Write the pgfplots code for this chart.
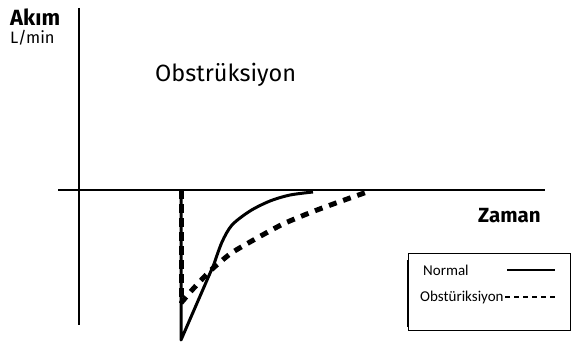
\documentclass[border=0pt]{standalone}
\usepackage{pgfplots}
\pgfplotsset{compat=1.18}
\usepackage{fontspec}
\setmainfont{Fira Sans}
\newfontfamily\legfont{Carlito}
\begin{document}
\begin{tikzpicture}
\begin{axis}[
  scale only axis, width=577pt, height=355pt,
  xmin=0, xmax=577, ymin=0, ymax=355, y dir=reverse,
  hide axis, clip=false]
\path (axis cs:0,0) rectangle (axis cs:577,355);
% axes
\addplot[black, line width=2pt] coordinates {(79,8) (79,325)};
\addplot[black, line width=2pt] coordinates {(58,190) (545,190)};
% normal
\addplot[black, line width=3pt, line join=round] coordinates {(181,190) (181,340) (214,264)};
\addplot[black, line width=3pt, smooth, tension=0.5] coordinates {(214,264) (222,242) (232,225) (250,211) (270,201) (290,195) (313,192)};
% obstruction
\addplot[black, line width=5pt, dash pattern=on 9pt off 5pt] coordinates {(181,190) (181,303)};
\addplot[black, line width=5pt, dash pattern=on 8pt off 7pt, smooth, tension=0.4] coordinates {(181,303) (193,289) (210,271) (230,254) (250,242) (283,224) (317,210) (350,198) (370,191)};
% legend box
\addplot[black, line width=0.8pt] coordinates {(408,253) (570,253) (570,330) (408,330) (408,253)};
\addplot[black, line width=2.5pt] coordinates {(408,260) (408,327)};
\addplot[black, line width=1.5pt] coordinates {(507,270) (555,270)};
\addplot[black, line width=1.5pt, dash pattern=on 5pt off 4pt] coordinates {(505,297) (557,297)};
% texts
\node[anchor=west, inner xsep=0pt, font=\fontsize{22}{24}\selectfont\bfseries] at (axis cs:10,17) {Akım};
\node[anchor=west, inner xsep=0pt, font=\fontsize{16.5}{18}\selectfont] at (axis cs:10,38) {L/min};
\node[anchor=west, inner xsep=0pt, font=\fontsize{23.5}{26}\selectfont] at (axis cs:155,75) {Obstrüksiyon};
\node[anchor=west, inner xsep=0pt, font=\fontsize{20.5}{22}\selectfont\bfseries] at (axis cs:478,216) {Zaman};
\node[anchor=west, inner xsep=0pt, font=\legfont\fontsize{15}{17}\selectfont] at (axis cs:423,270) {Normal};
\node[anchor=west, inner xsep=0pt, font=\legfont\fontsize{15}{17}\selectfont] at (axis cs:420,297) {Obstüriksiyon};
\end{axis}
\end{tikzpicture}
\end{document}
